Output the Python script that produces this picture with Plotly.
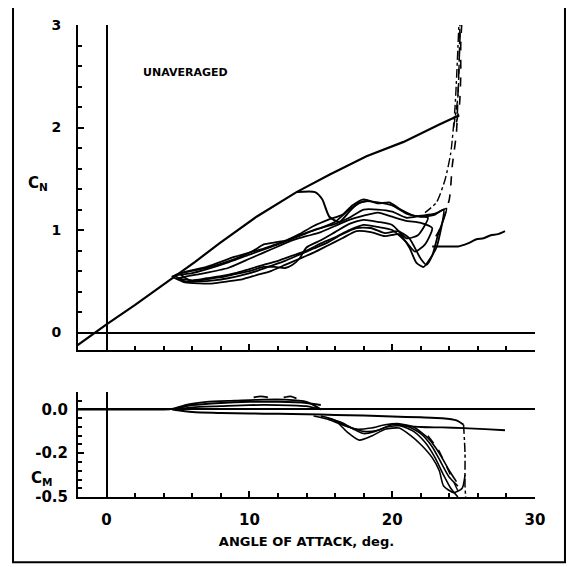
import plotly.graph_objects as go

# ---------------- data ----------------
# Top panel: normal-force coefficient C_N vs angle of attack (deg)
att_alpha = [-2.3, -0.8, 0, 2, 4.6, 6.2, 7.9, 10.5, 13.3, 15.6, 18.2, 20.8, 23.3, 24.3, 24.7]
att_cn = [-0.15, 0, 0.08, 0.27, 0.53, 0.69, 0.87, 1.13, 1.37, 1.54, 1.72, 1.86, 2.03, 2.09, 2.12]

spike1_alpha = [24.5, 24.7, 24.8, 24.8, 24.9]
spike1_cn = [2.05, 2.2, 2.5, 2.8, 3.1]
spike2_alpha = [24.3, 24.6, 24.7, 24.75]
spike2_cn = [2.0, 2.3, 2.7, 3.1]

desc1_alpha = [24.8, 24.6, 24.5, 24.2, 24.0, 23.3, 22.8]
desc1_cn = [3.1, 2.3, 1.95, 1.62, 1.30, 1.0, 0.88]
desc2_alpha = [24.7, 24.4, 24.1, 23.7, 23.1, 22.3]
desc2_cn = [3.1, 2.2, 1.75, 1.49, 1.27, 1.17]

stall_alpha = [13.3, 14.6, 15.1, 15.6, 16.3, 17.0, 17.6, 18.2]
stall_cn = [1.37, 1.37, 1.30, 1.13, 1.08, 1.18, 1.26, 1.28]

post_alpha = [22.8, 23.6, 24.6, 25.3, 25.9, 26.4, 26.9, 27.4, 27.9]
post_cn = [0.84, 0.84, 0.84, 0.87, 0.91, 0.92, 0.95, 0.96, 0.99]

l1_alpha = [4.6, 6, 8, 10, 12, 14, 15, 16, 17, 18, 19, 20, 21, 22, 23, 23.6,
            23.1, 22.6, 22.2, 21.7, 21.2, 20.5, 19.5, 18.5, 17.5, 16.5, 15.5, 14.5,
            13.5, 12.5, 11.5, 10.5, 9.5, 8.5, 7.5, 6.5, 5.5, 4.6]
l1_cn = [0.55, 0.58, 0.66, 0.76, 0.86, 0.97, 1.02, 1.08, 1.2, 1.28, 1.27, 1.24, 1.16, 1.13, 1.15, 1.2,
         0.83, 0.71, 0.64, 0.68, 0.83, 0.96, 0.94, 0.98, 0.99, 0.92, 0.85, 0.78,
         0.72, 0.66, 0.6, 0.56, 0.52, 0.5, 0.48, 0.48, 0.49, 0.55]

l2_alpha = [5, 6.5, 8.5, 10, 11, 12, 13, 14, 15, 16, 17, 18, 19, 20, 21, 22, 22.8,
            22.3, 21.6, 21, 20, 19, 18, 17, 16, 15, 14, 13, 12, 11, 10, 9, 8, 7, 6, 5]
l2_cn = [0.53, 0.57, 0.63, 0.72, 0.78, 0.84, 0.9, 0.94, 0.98, 1.04, 1.1, 1.14, 1.17, 1.13, 1.09, 1.07, 1.02,
         0.86, 0.79, 0.88, 1.0, 1.03, 1.05, 1.0, 0.93, 0.87, 0.8, 0.75, 0.7, 0.66, 0.62, 0.58, 0.55, 0.53, 0.51, 0.53]

l3_alpha = [5.2, 7, 9, 10.3, 11, 11.8, 12.6, 13.5, 14.5, 15.5, 16.5, 17.2, 18, 19, 19.8, 20.6, 21.5, 22.5,
            21.8, 21, 20, 19, 18, 17, 16, 15, 14, 13.5, 13, 12.5, 11.8, 11, 10, 9, 8, 7, 6, 5.2]
l3_cn = [0.57, 0.63, 0.72, 0.8, 0.86, 0.88, 0.9, 0.96, 1.04, 1.1, 1.15, 1.24, 1.3, 1.26, 1.27, 1.2, 1.14, 1.12,
         0.95, 0.92, 1.05, 1.08, 1.1, 1.06, 0.98, 0.9, 0.83, 0.72, 0.66, 0.63, 0.64, 0.64, 0.6, 0.57, 0.54, 0.52, 0.5, 0.57]

l4_alpha = [4.8, 7, 9, 11, 13, 14.5, 16, 17, 18, 19, 20, 21, 22, 23, 23.8,
            23.2, 22.8, 22.4, 22, 21.2, 20.4, 19.5, 18.5, 17.5, 16.5, 15.5, 14.5, 13.5,
            12.5, 11.5, 10.5, 9.5, 8.5, 7.5, 6.5, 5.5, 4.8]
l4_cn = [0.56, 0.64, 0.74, 0.82, 0.92, 1.0, 1.06, 1.12, 1.2, 1.2, 1.18, 1.12, 1.14, 1.16, 1.21,
         0.95, 0.75, 0.66, 0.72, 0.92, 0.99, 0.97, 1.02, 1.02, 0.96, 0.88, 0.82, 0.76,
         0.7, 0.65, 0.6, 0.56, 0.53, 0.51, 0.5, 0.5, 0.56]

# Bottom panel: pitching-moment coefficient C_M vs angle of attack (deg)
m_att_alpha = [-2, 0, 2, 4, 4.8, 6, 8, 10, 12, 14, 15]
m_att_cm = [0.0, 0.0, 0.0, 0.0, 0.005, 0.02, 0.03, 0.035, 0.035, 0.03, 0.02]

m_big_alpha = [4.6, 6, 8, 10, 12, 14, 16, 18, 20, 22, 23.5, 24.5, 25.0]
m_big_cm = [0.0, -0.012, -0.016, -0.018, -0.02, -0.022, -0.025, -0.028, -0.032, -0.036, -0.04, -0.05, -0.07]

m_drop_alpha = [25.0, 25.1, 25.1, 25.2]
m_drop_cm = [-0.07, -0.2, -0.35, -0.45]

m_pos_alpha = [4.6, 5.5, 7, 9, 11, 12.5, 14, 15, 14, 12, 10, 8, 6, 4.6]
m_pos_cm = [0.0, 0.02, 0.035, 0.04, 0.045, 0.045, 0.035, 0.0, 0.015, 0.02, 0.02, 0.015, 0.01, 0.0]

m_bump_alpha = [10.3, 10.8, 11.3, None, 12.4, 12.9, 13.3]
m_bump_cm = [0.055, 0.06, 0.055, None, 0.055, 0.06, 0.05]

ml1_alpha = [15, 16, 16.8, 17.7, 18.6, 19.5, 20.5, 21.3, 22, 22.8, 23.3, 23.6, 24.3, 24.9, 25.1]
ml1_cm = [-0.03, -0.05, -0.1, -0.14, -0.12, -0.09, -0.085, -0.12, -0.16, -0.22, -0.28, -0.35, -0.38, -0.36, -0.3]
ml2_alpha = [15.5, 16.5, 17.3, 18, 18.8, 19.6, 20.6, 21.5, 22.3, 23, 23.6, 24.1, 24.6]
ml2_cm = [-0.04, -0.06, -0.09, -0.11, -0.1, -0.08, -0.075, -0.1, -0.15, -0.22, -0.3, -0.36, -0.4]
ml3_alpha = [16, 17, 18, 19, 20, 21, 22, 22.8, 23.4, 24, 24.6]
ml3_cm = [-0.05, -0.08, -0.1, -0.095, -0.07, -0.075, -0.11, -0.17, -0.24, -0.31, -0.35]
ml4_alpha = [14.5, 15.5, 16.5, 17.5, 18.5, 19.5, 20.5, 21.5, 22.5, 23.3, 24, 24.5]
ml4_cm = [-0.03, -0.045, -0.07, -0.09, -0.085, -0.07, -0.065, -0.08, -0.13, -0.2, -0.28, -0.33]

m_post_alpha = [20.8, 22, 23.5, 25, 26.5, 27.9]
m_post_cm = [-0.075, -0.08, -0.082, -0.085, -0.09, -0.095]

m_dd_alpha = [22.5, 23.2, 23.8, 24.3, 24.8]
m_dd_cm = [-0.12, -0.18, -0.26, -0.33, -0.4]

x_tickvals = [0, 10, 20, 30]
x_ticktext = ["0", "10", "20", "30"]
cn_tickvals = [0, 1, 2, 3]
cn_ticktext = ["0", "1", "2", "3"]
cm_tickvals = [0, -0.2, -0.4]
cm_ticktext = ["0.0", "-0.2", "-0.5"]

# ---------------- figure ----------------
INK = "black"
fig = go.Figure()


def add(xs, ys, axes, width=2.0, dash="solid", shape="spline"):
    fig.add_trace(go.Scatter(
        x=xs, y=ys, mode="lines", xaxis=axes[0], yaxis=axes[1],
        line=dict(color=INK, width=width, dash=dash, shape=shape, smoothing=0.6),
        showlegend=False, hoverinfo="skip", connectgaps=False))


top = ("x", "y")
bot = ("x2", "y2")

add(att_alpha, att_cn, top, 2.2, shape="linear")
add(spike1_alpha, spike1_cn, top, 1.6, "dash")
add(spike2_alpha, spike2_cn, top, 1.4, "dashdot")
add(desc1_alpha, desc1_cn, top, 1.6, "dash")
add(desc2_alpha, desc2_cn, top, 1.4, "dashdot")
add(stall_alpha, stall_cn, top, 2.0)
add(post_alpha, post_cn, top, 2.0)
add(l1_alpha, l1_cn, top, 1.8)
add(l2_alpha, l2_cn, top, 1.8)
add(l3_alpha, l3_cn, top, 1.8)
add(l4_alpha, l4_cn, top, 1.8)

add(m_att_alpha, m_att_cm, bot, 2.0)
add(m_big_alpha, m_big_cm, bot, 2.0)
add(m_drop_alpha, m_drop_cm, bot, 1.5, "dashdot")
add(m_pos_alpha, m_pos_cm, bot, 1.8)
add(m_bump_alpha, m_bump_cm, bot, 1.8)
add(ml1_alpha, ml1_cm, bot, 1.6)
add(ml2_alpha, ml2_cm, bot, 1.6)
add(ml3_alpha, ml3_cm, bot, 1.6)
add(ml4_alpha, ml4_cm, bot, 1.6)
add(m_post_alpha, m_post_cm, bot, 1.8)
add(m_dd_alpha, m_dd_cm, bot, 1.4, "dash")

FONT = "DejaVu Sans"
tickfont = dict(family=FONT, size=14, color=INK, weight="bold")

common_x = dict(
    range=[-2, 30], showline=True, linecolor=INK, linewidth=2, mirror=False,
    showgrid=False, zeroline=True, zerolinecolor=INK, zerolinewidth=1.5,
    ticks="inside", ticklen=6, tickwidth=1.5, tickcolor=INK,
    tickvals=x_tickvals, ticktext=x_ticktext,
    minor=dict(dtick=2, tick0=0, ticks="inside", ticklen=4, tickwidth=1.5, tickcolor=INK, showgrid=False),
)

# The page body adds an 8 px offset, so the figure is 8 px smaller and the margins compensate.
fig.update_layout(
    width=566, height=559,
    margin=dict(l=70, r=39, t=17, b=70, autoexpand=False),
    paper_bgcolor="white", plot_bgcolor="white",
    font=dict(family=FONT, color=INK),
    xaxis=dict(common_x, domain=[0, 1], anchor="y", showticklabels=False, matches="x2"),
    yaxis=dict(
        domain=[0.3114, 1], anchor="x", range=[-0.17, 3.0],
        showline=True, linecolor=INK, linewidth=2, showgrid=False,
        zeroline=True, zerolinecolor=INK, zerolinewidth=2.2,
        tickvals=cn_tickvals, ticktext=cn_ticktext, tickfont=tickfont,
        ticks="inside", ticklen=6, tickwidth=1.5, tickcolor=INK, ticklabelstandoff=12,
        minor=dict(dtick=0.2, tick0=0, ticks="inside", ticklen=4, tickwidth=1.5, tickcolor=INK, showgrid=False),
    ),
    xaxis2=dict(common_x, domain=[0, 1], anchor="y2", showticklabels=True,
                tickfont=dict(family=FONT, size=15, color=INK, weight="bold"), ticklabelstandoff=8,
                title=dict(text="ANGLE OF ATTACK, deg.", font=dict(family=FONT, size=13, color=INK, weight="bold"),
                           standoff=9)),
    yaxis2=dict(
        domain=[0, 0.2225], anchor="x2", range=[-0.4, 0.08],
        showline=True, linecolor=INK, linewidth=2, showgrid=False,
        zeroline=True, zerolinecolor=INK, zerolinewidth=2.2,
        tickvals=cm_tickvals, ticktext=cm_ticktext,
        tickfont=dict(family=FONT, size=15, color=INK, weight="bold"),
        ticks="inside", ticklen=6, tickwidth=1.5, tickcolor=INK, ticklabelstandoff=5,
        minor=dict(dtick=0.04, tick0=0, ticks="inside", ticklen=4, tickwidth=1.5, tickcolor=INK, showgrid=False),
    ),
    annotations=[
        dict(text="UNAVERAGED", x=2.4, y=2.54, xref="x", yref="y", xanchor="left", yanchor="middle",
             showarrow=False, font=dict(family=FONT, size=11, color=INK, weight="bold")),
        dict(text="C<sub>N</sub>", x=-0.114, y=0.688, xref="paper", yref="paper",
             showarrow=False, font=dict(family=FONT, size=15, color=INK, weight="bold")),
        dict(text="C<sub>M</sub>", x=-0.107, y=0.015, xref="paper", yref="paper",
             showarrow=False, font=dict(family=FONT, size=15, color=INK, weight="bold")),
    ],
    shapes=[
        dict(type="rect", xref="paper", yref="paper", x0=-0.1422, x1=1.0656, y0=-0.138, y1=1.0403,
             line=dict(color=INK, width=2), fillcolor="rgba(0,0,0,0)", layer="above"),
    ],
)

fig.write_html("out.html")
